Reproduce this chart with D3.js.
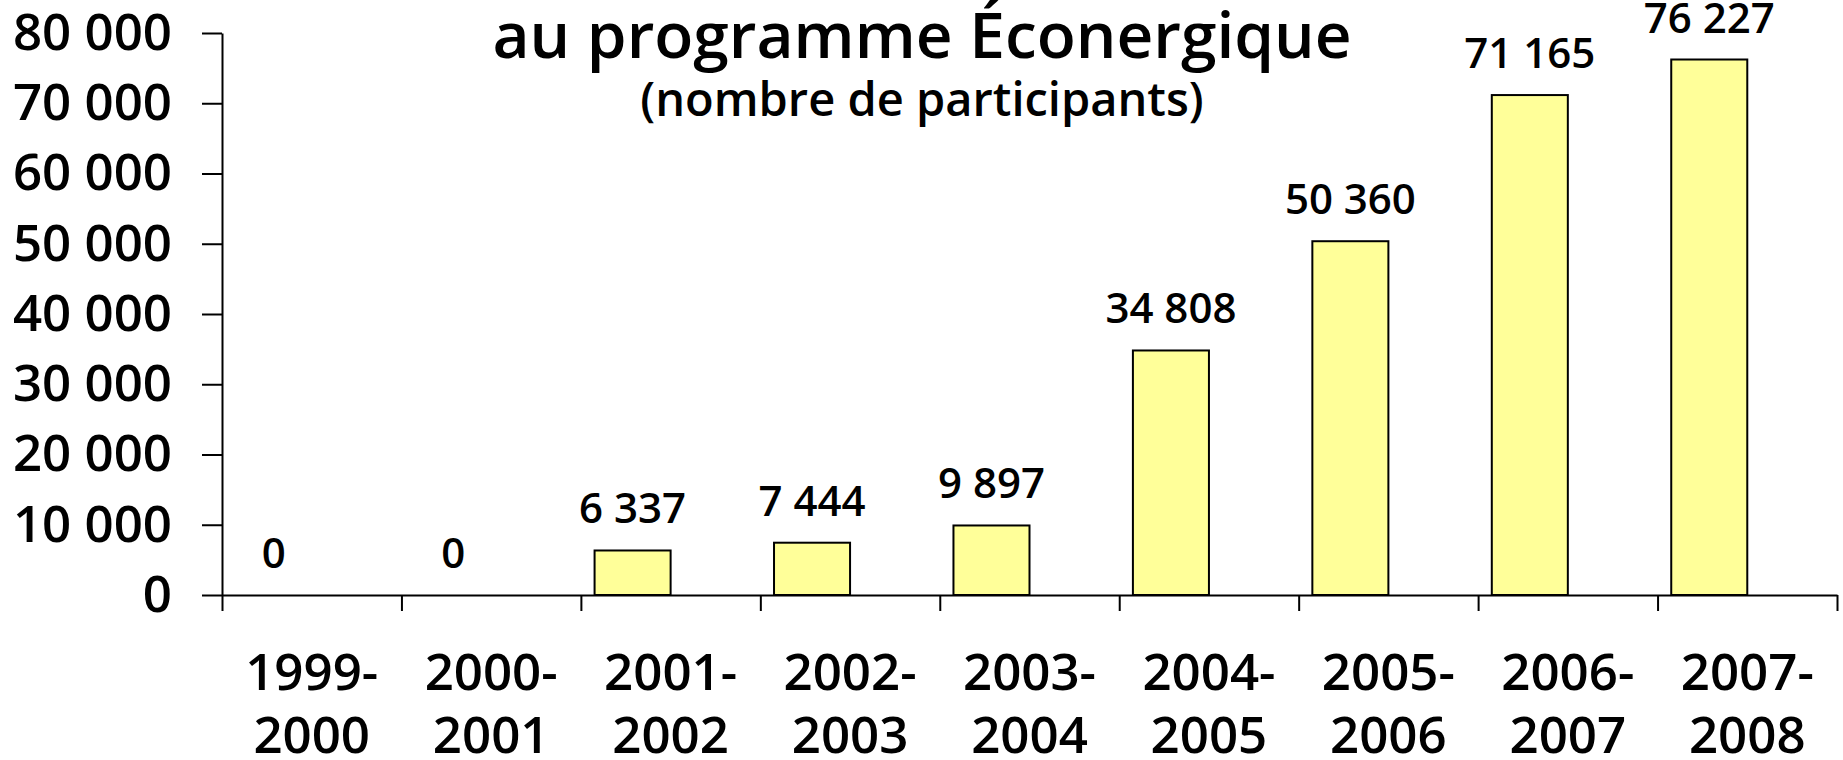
<!DOCTYPE html>
<html>
<head>
<meta charset="utf-8">
<script src="https://cdn.jsdelivr.net/npm/d3@7/dist/d3.min.js"></script>
<style>
  html, body { margin: 0; padding: 0; background: #ffffff; }
  svg { display: block; }
</style>
</head>
<body>
<svg id="chart" width="1843" height="760"></svg>
<script>
// ---- Data ----
const categoriesLine1 = ["1999-", "2000-", "2001-", "2002-", "2003-", "2004-", "2005-", "2006-", "2007-"];
const categoriesLine2 = ["2000", "2001", "2002", "2003", "2004", "2005", "2006", "2007", "2008"];
const participants = [0, 0, 6337, 7444, 9897, 34808, 50360, 71165, 76227];
const yTicks = [0, 10000, 20000, 30000, 40000, 50000, 60000, 70000, 80000];
const titleText = "au programme Éconergique";
const subtitleText = "(nombre de participants)";

(function () {
// ---- Layout ----
const plotLeft = 222, plotRight = 1837, plotTop = 33, plotBottom = 595;
const svg = d3.select("#chart");

const fmt = d3.formatLocale({ decimal: ",", thousands: "\u00a0", grouping: [3], currency: ["", ""] }).format(",d");

const categories = categoriesLine1.map((d, i) => d + categoriesLine2[i]);

const x = d3.scaleBand().domain(categories).range([plotLeft, plotRight]).paddingInner(0).paddingOuter(0);
const sub = d3.scaleBand().domain(["s1", "s2"]).range([0, x.bandwidth()]).paddingInner(0).paddingOuter(0.18);
const y = d3.scaleLinear().domain([0, 80000]).range([plotBottom, plotTop]);
const xBound = d3.scaleLinear().domain([0, categories.length]).range([plotLeft, plotRight]);

const font = "'Open Sans', 'Noto Sans', sans-serif";

// Y axis
const yAxis = svg.append("g")
  .attr("transform", `translate(${plotLeft},0)`)
  .call(d3.axisLeft(y).tickValues(yTicks).tickSize(20).tickSizeOuter(0).tickPadding(30).tickFormat(fmt));
yAxis.select(".domain").attr("stroke", "#000").attr("stroke-width", 2);
yAxis.selectAll(".tick line").attr("stroke", "#000").attr("stroke-width", 2);
yAxis.selectAll(".tick text")
  .attr("fill", "#000")
  .style("font-family", font)
  .style("font-weight", "600")
  .style("font-size", "51px");

// Bars
svg.append("g").selectAll("rect")
  .data(participants.map((v, i) => ({ v, c: categories[i] })).filter(d => d.v > 0))
  .join("rect")
  .attr("x", d => x(d.c) + sub("s1"))
  .attr("y", d => y(d.v))
  .attr("width", sub.bandwidth())
  .attr("height", d => y(0) - y(d.v))
  .attr("fill", "#FFFF99")
  .attr("stroke", "#000")
  .attr("stroke-width", 2);

// X axis (boundary ticks)
const xAxis = svg.append("g")
  .attr("transform", `translate(0,${plotBottom})`)
  .call(d3.axisBottom(xBound).ticks(categories.length).tickSize(16).tickSizeOuter(0).tickFormat(""));
xAxis.select(".domain").attr("stroke", "#000").attr("stroke-width", 2);
xAxis.selectAll(".tick line").attr("stroke", "#000").attr("stroke-width", 2);

// Category labels
const catG = svg.append("g");
categories.forEach((c, i) => {
  const cx = x(c) + x.bandwidth() / 2;
  const t = catG.append("text")
    .attr("text-anchor", "middle")
    .attr("fill", "#000")
    .style("font-family", font)
    .style("font-weight", "600")
    .style("font-size", "51px");
  t.append("tspan").attr("x", cx).attr("y", 690).text(categoriesLine1[i]);
  t.append("tspan").attr("x", cx).attr("y", 753).text(categoriesLine2[i]);
});

// Value labels
svg.append("g").selectAll("text")
  .data(participants)
  .join("text")
  .attr("x", (d, i) => x(categories[i]) + sub("s1") + sub.bandwidth() / 2)
  .attr("y", d => y(d) - 27)
  .attr("text-anchor", "middle")
  .attr("fill", "#000")
  .style("font-family", font)
  .style("font-weight", "600")
  .style("font-size", "42px")
  .text(d => fmt(d));

// Title
svg.append("text")
  .attr("x", 922).attr("y", 58)
  .attr("text-anchor", "middle")
  .attr("fill", "#000")
  .style("font-family", font)
  .style("font-weight", "600")
  .style("font-size", "64px")
  .text(titleText);

svg.append("text")
  .attr("x", 922).attr("y", 116)
  .attr("text-anchor", "middle")
  .attr("fill", "#000")
  .style("font-family", font)
  .style("font-weight", "600")
  .style("font-size", "47px")
  .text(subtitleText);
})();
</script>
</body>
</html>
